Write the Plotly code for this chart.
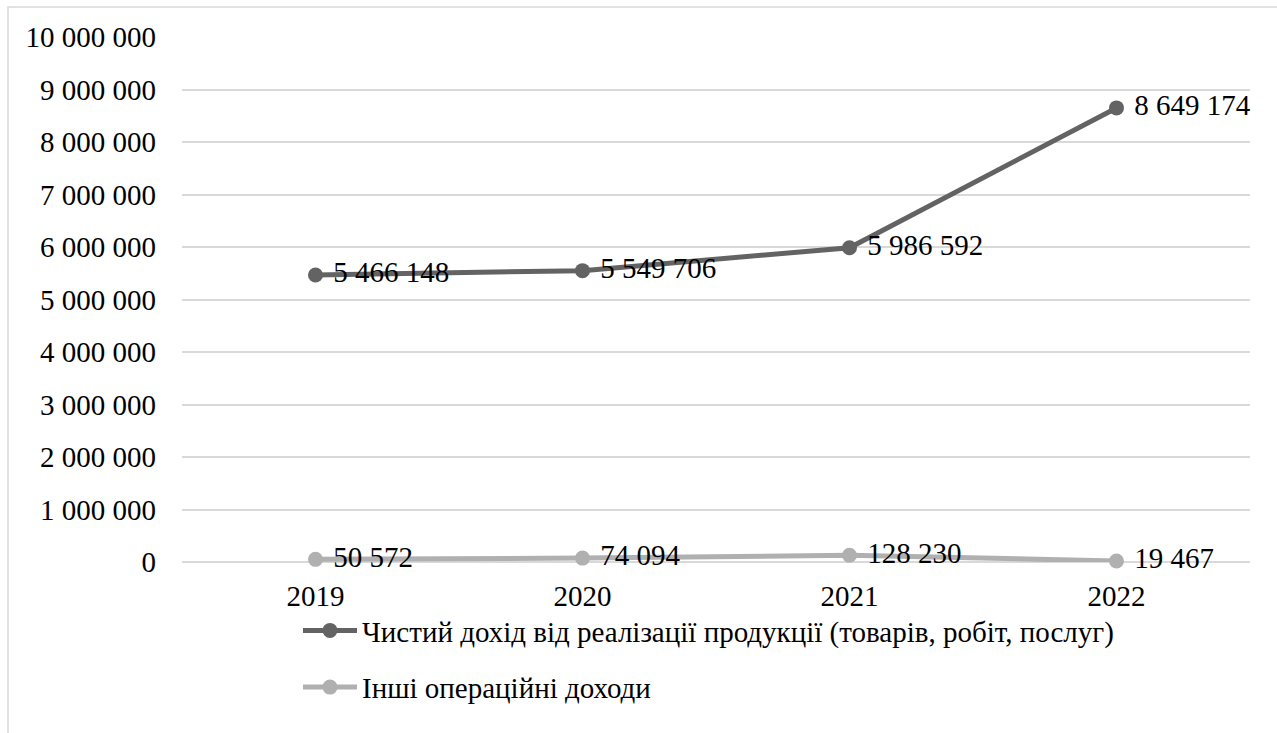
import plotly.graph_objects as go

years = ["2019", "2020", "2021", "2022"]
net_income = [5466148, 5549706, 5986592, 8649174]
other_income = [50572, 74094, 128230, 19467]
name_net = "Чистий дохід від реалізації продукції (товарів, робіт, послуг)"
name_other = "Інші операційні доходи"
y_ticks = [0, 1000000, 2000000, 3000000, 4000000, 5000000, 6000000, 7000000, 8000000, 9000000, 10000000]

FONT = "Liberation Serif"
FS = 29

fig = go.Figure()
fig.add_trace(go.Scatter(
    x=years, y=net_income, name=name_net, legendgroup="a",
    mode="lines+markers+text",
    line=dict(color="#636363", width=5),
    marker=dict(color="#636363", size=15),
    text=net_income, texttemplate=" %{y:,d}", textposition="middle right",
    textfont=dict(family=FONT, size=FS, color="#000000"),
    cliponaxis=False,
))
fig.add_trace(go.Scatter(
    x=years, y=other_income, name=name_other, legendgroup="b",
    mode="lines+markers+text",
    line=dict(color="#b0b0b0", width=5),
    marker=dict(color="#b0b0b0", size=15),
    text=other_income, texttemplate=" %{y:,d}", textposition="middle right",
    textfont=dict(family=FONT, size=FS, color="#000000"),
    cliponaxis=False,
))

fig.update_layout(
    width=1277, height=733,
    margin=dict(l=182, r=27, t=37, b=171),
    paper_bgcolor="white", plot_bgcolor="white",
    separators=". ",
    font=dict(family=FONT, size=FS, color="#000000"),
    showlegend=True,
    legend=dict(
        orientation="v", x=0.1086, y=-0.082, xanchor="left", yanchor="top",
        font=dict(family=FONT, size=FS, color="#000000"),
        tracegroupgap=16, traceorder="grouped", itemwidth=54,
        bgcolor="rgba(0,0,0,0)",
    ),
    xaxis=dict(
        type="category", range=[-0.5, 3.5], showgrid=False, zeroline=False,
        showline=False, ticks="", ticklabelstandoff=14,
        tickfont=dict(family=FONT, size=FS, color="#000000"),
    ),
    yaxis=dict(
        range=[0, 10000000], tickvals=y_ticks, tickformat=",d",
        showgrid=True, gridcolor="#d9d9d9", gridwidth=1.5,
        zeroline=True, zerolinecolor="#d9d9d9", zerolinewidth=1.5,
        showline=False, ticks="", ticklabelstandoff=25,
        tickfont=dict(family=FONT, size=FS, color="#000000"),
    ),
    shapes=[dict(
        type="rect", xref="paper", yref="paper",
        x0=(8 - 182) / 1068, x1=1.2, y0=-0.5, y1=(562 - 7) / 525,
        line=dict(color="#d9d9d9", width=1.5), fillcolor="rgba(0,0,0,0)",
        layer="below",
    )],
)

fig.write_html("out.html")
